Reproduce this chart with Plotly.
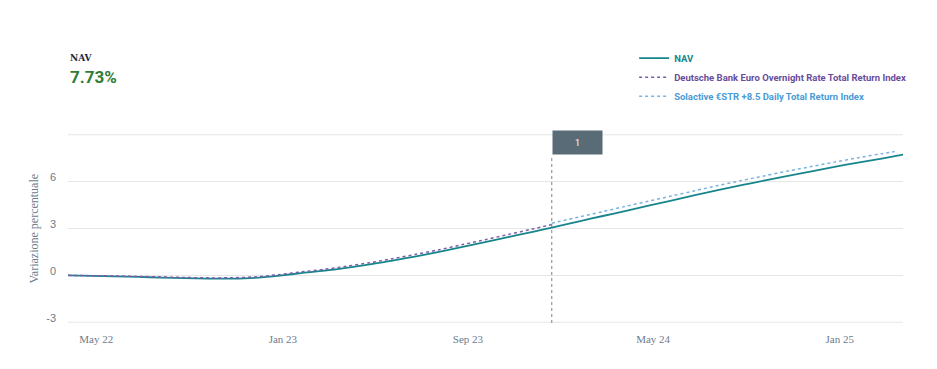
import plotly.graph_objects as go

nav_dates = ["2022-03-25", "2022-04-25", "2022-05-25", "2022-06-25", "2022-07-25", "2022-08-25",
             "2022-09-25", "2022-10-25", "2022-11-25", "2022-12-25", "2023-01-25", "2023-02-25",
             "2023-03-25", "2023-04-25", "2023-05-25", "2023-06-25", "2023-07-25", "2023-08-25",
             "2023-09-25", "2023-10-25", "2023-11-25", "2023-12-20", "2024-01-25", "2024-02-25",
             "2024-03-25", "2024-04-25", "2024-05-25", "2024-06-25", "2024-07-25", "2024-08-25",
             "2024-09-25", "2024-10-25", "2024-11-25", "2024-12-25", "2025-01-25", "2025-02-25",
             "2025-03-25"]
nav_values = [0.00, -0.03, -0.06, -0.10, -0.14, -0.18, -0.21, -0.21, -0.16, -0.03, 0.14, 0.30,
              0.48, 0.70, 0.95, 1.22, 1.50, 1.82, 2.14, 2.46, 2.79, 3.06, 3.46, 3.80,
              4.12, 4.46, 4.79, 5.13, 5.45, 5.77, 6.08, 6.37, 6.66, 6.94, 7.22, 7.48, 7.73]

db_dates = nav_dates[:22]
db_values = [0.00, -0.02, -0.04, -0.07, -0.10, -0.135, -0.16, -0.155, -0.10, 0.04, 0.22, 0.39,
             0.58, 0.81, 1.07, 1.35, 1.64, 1.97, 2.30, 2.63, 2.97, 3.25]

sol_dates = ["2023-12-20", "2024-01-25", "2024-02-25", "2024-03-25", "2024-04-25", "2024-05-25",
             "2024-06-25", "2024-07-25", "2024-08-25", "2024-09-25", "2024-10-25", "2024-11-25",
             "2024-12-25", "2025-01-25", "2025-02-25", "2025-03-14"]
sol_values = [3.34, 3.74, 4.08, 4.41, 4.75, 5.08, 5.42, 5.75, 6.07, 6.38, 6.68, 6.97,
              7.25, 7.53, 7.79, 7.93]

series_names = ["NAV",
                "Deutsche Bank Euro Overnight Rate Total Return Index",
                "Solactive €STR +8.5 Daily Total Return Index"]

y_ticks = [-3, 0, 3, 6, 9]
y_tick_text = ["-3", "0", "3", "6", ""]
y_range = [-3, 9]
x_ticks = ["2022-05-01", "2023-01-01", "2023-09-01", "2024-05-01", "2025-01-01"]
x_tick_text = ["May 22", "Jan 23", "Sep 23", "May 24", "Jan 25"]
marker_date = "2023-12-20"
marker_label = "1"
header_label = "NAV"
header_value = "7.73%"

C_NAV = "#17868c"
C_DB = "#7a5fa8"
C_SOL = "#7ab3df"
T_NAV = "#17868c"
T_DB = "#6a4c9c"
T_SOL = "#4a9bd6"
GRAY = "#6e7b8b"
GRID = "#e6e6e6"


def colored(name, c):
    return f"<span style='color:{c}'><b>{name}</b></span>"


fig = go.Figure()
fig.add_trace(go.Scatter(x=nav_dates, y=nav_values, mode="lines",
                         name=colored(series_names[0], T_NAV),
                         line=dict(color=C_NAV, width=1.8, shape="spline", smoothing=0.8)))
fig.add_trace(go.Scatter(x=db_dates, y=db_values, mode="lines",
                         name=colored(series_names[1], T_DB),
                         line=dict(color=C_DB, width=1.5, dash="dot", shape="spline", smoothing=0.8)))
fig.add_trace(go.Scatter(x=sol_dates, y=sol_values, mode="lines",
                         name=colored(series_names[2], T_SOL),
                         line=dict(color=C_SOL, width=1.5, dash="dot", shape="spline", smoothing=0.8)))

# page body has an 8px margin, so the figure is laid out 8px up/left of the target
fig.update_layout(
    width=937, height=369,
    margin=dict(l=60, r=42, t=126, b=54, autoexpand=False),
    paper_bgcolor="white", plot_bgcolor="white",
    showlegend=True,
    legend=dict(x=0.678, y=1.478, xanchor="left", yanchor="top",
                font=dict(family="Roboto", size=9.5, color="#333"),
                bgcolor="rgba(0,0,0,0)", tracegroupgap=0, itemwidth=30),
    xaxis=dict(type="date", range=["2022-03-25", "2025-03-25"],
               tickvals=x_ticks, ticktext=x_tick_text, showgrid=False, zeroline=False,
               showline=False, ticks="", ticklabelstandoff=8,
               tickfont=dict(family="Liberation Serif", size=11, color=GRAY)),
    yaxis=dict(range=[y_range[0] - 0.05, y_range[1] + 0.05], tickvals=y_ticks, ticktext=y_tick_text,
               showgrid=True, gridcolor=GRID, gridwidth=1, zeroline=False,
               showline=False, ticks="", ticklabelstandoff=11, ticklabelshift=-4,
               tickfont=dict(family="Liberation Sans", size=11, color=GRAY)),
)

for yv in y_range:
    fig.add_shape(type="line", xref="paper", yref="y", x0=0, x1=1, y0=yv, y1=yv,
                  line=dict(color=GRID, width=1), layer="below")

fig.add_shape(type="line", xref="x", yref="paper", x0=marker_date, x1=marker_date,
              y0=0, y1=0.889, line=dict(color="#7a8490", width=1, dash="dot"))
fig.add_annotation(xref="x", yref="paper", x=marker_date, y=0.889, xanchor="left", yanchor="bottom",
                   text=marker_label, showarrow=False, width=49, height=23, borderpad=0,
                   bgcolor="#5a6b78", font=dict(family="Roboto", size=9, color="white"))

fig.add_annotation(xref="paper", yref="paper", x=0, xshift=-35, y=0.5, textangle=-90,
                   text="Variazione percentuale", showarrow=False, xanchor="center", yanchor="middle",
                   font=dict(family="Liberation Serif", size=12, color=GRAY))

fig.add_annotation(xref="paper", yref="paper", x=0, y=1.402, xanchor="left", yanchor="middle",
                   text="<b>" + header_label + "</b>", showarrow=False,
                   font=dict(family="DejaVu Serif", size=9, color="#1f2a36"))
fig.add_annotation(xref="paper", yref="paper", x=0, y=1.302, xanchor="left", yanchor="middle",
                   text="<b>" + header_value + "</b>", showarrow=False,
                   font=dict(family="Roboto", size=17, color="#2f7d36"))

fig.write_html("out.html")
